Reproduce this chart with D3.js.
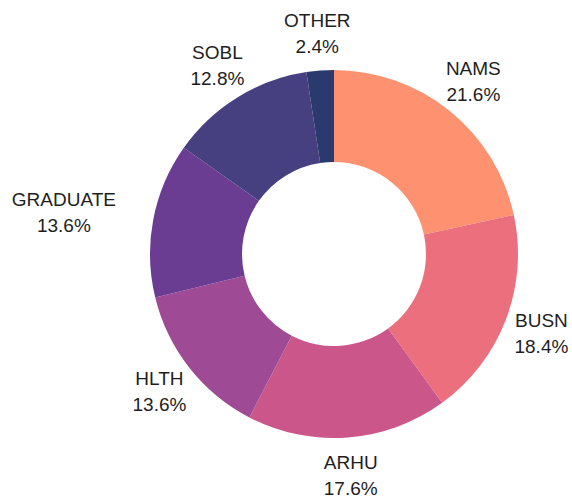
<!DOCTYPE html>
<html><head><meta charset="utf-8">
<script src="https://cdn.jsdelivr.net/npm/d3@7"></script>
<style>body{margin:0;background:#fff}svg{display:block}</style>
</head><body>
<svg id="c" width="572" height="501"></svg>
<script>
const categories = ["NAMS","BUSN","ARHU","HLTH","GRADUATE","SOBL","OTHER"];
const values = [21.6,18.4,17.6,13.6,13.6,12.8,2.4];
const colors = ["#fe916f","#ec6f7e","#cb5689","#9e4a94","#6a3d92","#463f80","#2a3a6e"];

const svg = d3.select("#c");
const cx = 334, cy = 254, R = 184, r = 92, LR = 222;
const g = svg.append("g").attr("transform",`translate(${cx},${cy})`);
const data = categories.map((c,i)=>({cat:c,val:values[i],col:colors[i]}));
const pie = d3.pie().value(d=>d.val).sort(null);
const arcs = pie(data);
const arc = d3.arc().innerRadius(r).outerRadius(R);
const labelArc = d3.arc().innerRadius(LR).outerRadius(LR);
g.selectAll("path").data(arcs).enter().append("path")
  .attr("d",arc).attr("fill",d=>d.data.col);
const lab = g.selectAll("text").data(arcs).enter().append("text")
  .attr("transform",d=>`translate(${labelArc.centroid(d)})`)
  .attr("text-anchor","middle")
  .style("font-family","'Liberation Sans', Arial, sans-serif")
  .style("font-size","19px").attr("fill","#1e1e1e");
lab.append("tspan").attr("x",0).attr("y",-6).text(d=>d.data.cat);
lab.append("tspan").attr("x",0).attr("y",20).text(d=>d.data.val.toFixed(1)+"%");
// shift whole label block outward if centered box would touch the ring
lab.each(function(d){
  const [px,py] = labelArc.centroid(d);
  const b = this.getBBox();
  const x0 = px + b.x, x1 = px + b.x + b.width, y0 = py + b.y, y1 = py + b.y + b.height;
  const nx = Math.max(x0, Math.min(0, x1)), ny = Math.max(y0, Math.min(0, y1));
  if (Math.hypot(nx, ny) < R) {
    const sx = (px < 0 ? -1 : 1) * b.width / 2;
    d3.select(this).attr("transform", `translate(${px + sx},${py})`);
  }
});
</script>
</body></html>
